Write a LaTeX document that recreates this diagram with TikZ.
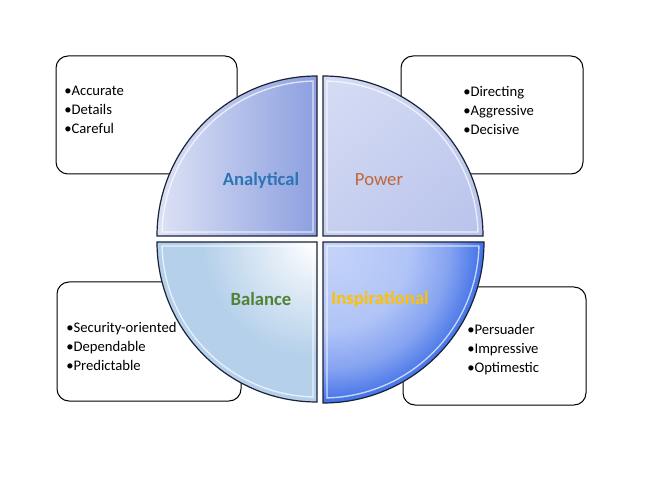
\documentclass[tikz,border=0pt]{standalone}
\usepackage{fontspec}
\setmainfont{Carlito}
\usetikzlibrary{shadings}
\definecolor{edgecol}{HTML}{1A2238}
\definecolor{analL}{HTML}{DDE2F5}
\definecolor{analR}{HTML}{8C9FE0}
\definecolor{powUL}{HTML}{D6DCF4}
\definecolor{powUR}{HTML}{C9D1F0}
\definecolor{powLL}{HTML}{C7CFF0}
\definecolor{powLR}{HTML}{B8C3EC}
\definecolor{balIn}{HTML}{FFFFFF}
\definecolor{balMid}{HTML}{E6EFF8}
\definecolor{balOut}{HTML}{B4D0EA}
\definecolor{insIn}{HTML}{C4D3F9}
\definecolor{insMid}{HTML}{B0C4F6}
\definecolor{insMidB}{HTML}{86A3F1}
\definecolor{insOut}{HTML}{4272E7}
\definecolor{insDeep}{HTML}{3565E3}
\definecolor{txtAnal}{HTML}{2E74B5}
\definecolor{txtPow}{HTML}{C0663A}
\definecolor{txtBal}{HTML}{538135}
\definecolor{txtIns}{HTML}{FFC000}
\pgfdeclareradialshading{insshade}{\pgfpoint{0bp}{0bp}}{color(0bp)=(insIn); color(12bp)=(insMid); color(18bp)=(insMidB); color(23bp)=(insOut); color(25bp)=(insDeep); color(50bp)=(insDeep)}
\pgfdeclareradialshading{balshade}{\pgfpoint{0bp}{0bp}}{color(0bp)=(balIn); color(6bp)=(balMid); color(19bp)=(balOut); color(25bp)=(balOut); color(50bp)=(balOut)}
\begin{document}
\begin{tikzpicture}[x=0.75pt,y=0.75pt,
  infobox/.style={draw=black, line width=0.75pt, fill=white, rounded corners=9pt, inner sep=0pt},
  bullets/.style={align=left, anchor=west, inner sep=0pt, font=\fontsize{11}{14.25}\selectfont, text=black},
  quadlabel/.style={inner sep=0pt, font=\fontsize{14}{16}\selectfont},
  quadedge/.style={draw=edgecol, line width=0.9pt},
  bevel/.style={draw=white, line width=1pt, opacity=0.7}]
\useasboundingbox (0,0) rectangle (653,-491);
\fill[white] (0,0) rectangle (653,-491);

% boxes (behind the circle)
\node[infobox, minimum width=135.75pt, minimum height=88.5pt] (tlbox) at (146.5,-115) {};
\node[infobox, minimum width=136.5pt, minimum height=88.5pt] (trbox) at (492,-115) {};
\node[infobox, minimum width=138pt, minimum height=89.25pt] (blbox) at (149,-341.5) {};
\node[infobox, minimum width=137.25pt, minimum height=88.5pt] (brbox) at (494.5,-346) {};

% Analytical quadrant
\begin{scope}
  \path[clip] (317,-236) -- ++(-160,0) arc[start angle=180,end angle=90,radius=160] -- cycle;
  \shade[left color=analL, right color=analR] (157,-76) rectangle (317,-236);
\end{scope}
\path[bevel] (313,-232) -- ++(-150.95,0) arc[start angle=178.52,end angle=91.48,radius=155] -- cycle;
\path[quadedge] (317,-236) -- ++(-160,0) arc[start angle=180,end angle=90,radius=160] -- cycle;

% Power quadrant
\begin{scope}
  \path[clip] (323,-236) -- ++(160,0) arc[start angle=0,end angle=90,radius=160] -- cycle;
  \shade[upper left=powUL, upper right=powUR, lower left=powLL, lower right=powLR] (323,-76) rectangle (483,-236);
\end{scope}
\path[bevel] (327,-232) -- ++(150.95,0) arc[start angle=1.48,end angle=88.52,radius=155] -- cycle;
\path[quadedge] (323,-236) -- ++(160,0) arc[start angle=0,end angle=90,radius=160] -- cycle;

% Balance quadrant
\begin{scope}
  \path[clip] (317,-242) -- ++(-160,0) arc[start angle=180,end angle=270,radius=160] -- cycle;
  \fill[balOut] (157,-242) rectangle (317,-402);
  \shade[shading=balshade] (316,-244) circle (150);
\end{scope}
\path[bevel] (313,-246) -- ++(-150.95,0) arc[start angle=181.48,end angle=268.52,radius=155] -- cycle;
\path[quadedge] (317,-242) -- ++(-160,0) arc[start angle=180,end angle=270,radius=160] -- cycle;

% Inspirational quadrant
\begin{scope}
  \path[clip] (323,-242) -- ++(161,0) arc[start angle=0,end angle=-90,radius=161] -- cycle;
  \fill[insDeep] (323,-242) rectangle (484,-403);
  \shade[shading=insshade] (330,-250) circle (165);
\end{scope}
\path[bevel] (327,-246) -- ++(151.95,0) arc[start angle=-1.48,end angle=-88.52,radius=156] -- cycle;
\path[quadedge] (323,-242) -- ++(161,0) arc[start angle=0,end angle=-90,radius=161] -- cycle;

% quadrant labels
\node[quadlabel, text=txtAnal, font=\fontsize{14}{16}\selectfont\bfseries] (lanal) at (261,-180) {Analytical};
\node[quadlabel, text=txtPow] (lpow) at (379,-180) {Power};
\node[quadlabel, text=txtBal, font=\fontsize{14}{16}\selectfont\bfseries] (lbal) at (261,-299) {Balance};
\node[quadlabel, text=txtIns, font=\fontsize{14}{16}\selectfont\bfseries] (lins) at (380,-299) {Inspirational};

% bullet texts
\node[bullets] (tltext) at (64,-110) {•Accurate\\•Details\\•Careful};
\node[bullets] (trtext) at (463,-110) {•Directing\\•Aggressive\\•Decisive};
\node[bullets] (bltext) at (66,-346) {•Security-oriented\\•Dependable\\•Predictable};
\node[bullets] (brtext) at (467,-350) {•Persuader\\•Impressive\\•Optimestic};
\end{tikzpicture}
\end{document}
